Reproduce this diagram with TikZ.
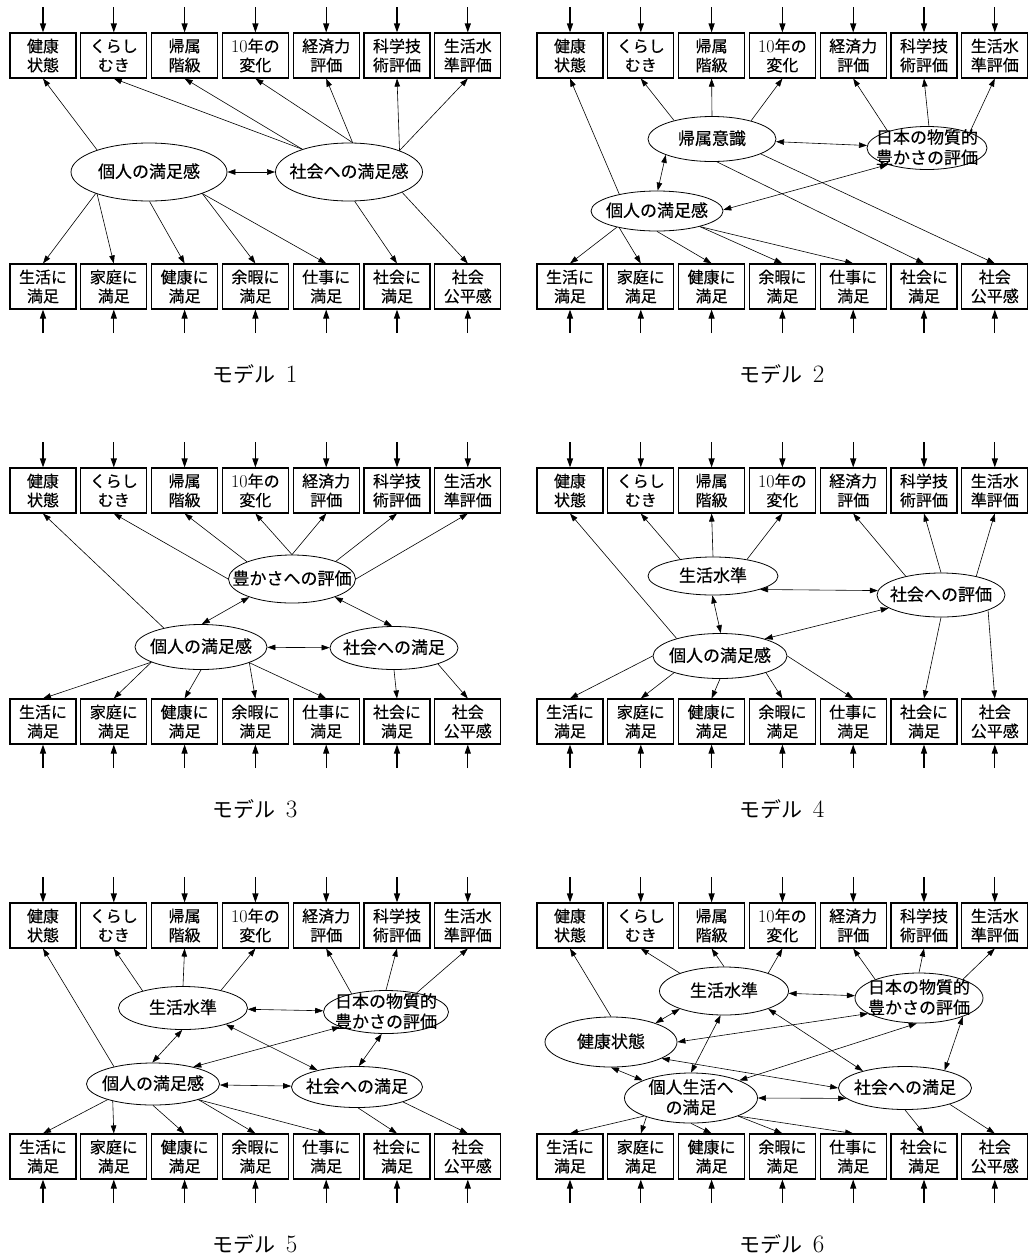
\documentclass[tikz,border=0pt]{standalone}
\usepackage{fontspec}
\newfontfamily\cjk{Noto Sans CJK JP}[FakeBold=0.4]
\newfontfamily\cjkcap{Noto Sans CJK JP}
\usetikzlibrary{shapes.geometric,arrows.meta}

% zero-size, vertically centred text so that an ellipse keeps its set size
\newcommand\zc[1]{\makebox[0pt]{\raisebox{\dimexpr(\depth-\height)/2-1.5pt\relax}[0pt][0pt]{\begin{tabular}{@{}c@{}}#1\end{tabular}}}}
% serif figures scaled to the height of the kana and kanji
\newcommand\fig[2]{{\rmfamily\fontsize{#1}{#1}\selectfont #2}}

\tikzset{
  obs/.style={draw, line width=1.1pt, minimum width=66pt, minimum height=45pt,
    inner sep=0pt, align=center, font=\cjk\fontsize{16}{19}\selectfont},
  lat/.style={draw, ellipse, line width=0.8pt, inner sep=0pt,
    font=\cjk\fontsize{17}{20}\selectfont},
  feed/.style={-{Triangle[length=9pt,width=6pt]}, line width=1.1pt},
  path1/.style={->, line width=0.6pt},
  cov/.style={<->, line width=0.6pt},
  mcap/.style={font=\cjkcap\fontsize{21}{24}\selectfont}
}

% observed indicators, their error inputs and the caption of one model
\newcommand\modelframe[1]{%
  \foreach \i/\t in {1/{健康\\状態},2/{くらし\\むき},3/{帰属\\階級},4/{\fig{18}{10}年の\\変化},
                     5/{経済力\\評価},6/{科学技\\術評価},7/{生活水\\準評価}}{
    \node[obs] (t\i) at ({43+70.8*(\i-1)},55.5) {\t};
    \coordinate (u\i) at ({43+70.8*(\i-1)},7);
    \draw[feed] (u\i) -- (t\i);
  }
  \foreach \i/\t in {1/{生活に\\満足},2/{家庭に\\満足},3/{健康に\\満足},4/{余暇に\\満足},
                     5/{仕事に\\満足},6/{社会に\\満足},7/{社会\\公平感}}{
    \node[obs] (b\i) at ({43+70.8*(\i-1)},286.5) {\t};
    \coordinate (d\i) at ({43+70.8*(\i-1)},333);
    \draw[feed] (d\i) -- (b\i);
  }
  \node[mcap] (cap) at (255,374) {モデル\hspace{10pt}\fig{25}{#1}};
}

\begin{document}
\begin{tikzpicture}[x=1pt, y=-1pt, >={Triangle[length=8pt,width=5.5pt]}]
\useasboundingbox (0,0) rectangle (1028,1259);

% ---------- model 1 ----------
\begin{scope}[name prefix=m1-]
  \modelframe{1}
  \node[lat, minimum width=156pt, minimum height=58pt] (p) at (149,172) {\zc{個人の満足感}};
  \node[lat, minimum width=147pt, minimum height=58pt] (s) at (349,172) {\zc{社会への満足感}};
  \draw[path1] (p.157) -- (t1.south);
  \draw[path1] (s.154) -- (t2.south);
  \draw[path1] (s.154) -- (t3.south);
  \draw[path1] (s.83) -- (t4.south);
  \draw[path1] (s.83) -- (t5.south);
  \draw[path1] (s.23) -- (t6.south);
  \draw[path1] (s.23) -- (t7.south);
  \draw[cov] (p) -- (s);
  \draw[path1] (p.202) -- (b1.north);
  \draw[path1] (p.203) -- (b2.north);
  \draw[path1] (p.271) -- (b3.north);
  \draw[path1] (p.338) -- (b4.north);
  \draw[path1] (p.338) -- (b5.north);
  \draw[path1] (s.281) -- (b6.north);
  \draw[path1] (s.339) -- (b7.north);
\end{scope}

% ---------- model 2 ----------
\begin{scope}[shift={(527,0)}, name prefix=m2-]
  \modelframe{2}
  \node[lat, minimum width=128pt, minimum height=45pt] (k) at (185,139) {\zc{帰属意識}};
  \node[lat, minimum width=120pt, minimum height=43pt] (j) at (400,148) {\zc{日本の物質的\\豊かさの評価}};
  \node[lat, minimum width=132pt, minimum height=40pt] (p) at (130,211) {\zc{個人の満足感}};
  \draw[path1] (p.156) -- (t1.south);
  \draw[path1] (k.154) -- (t2.south);
  \draw[path1] (k.90) -- (t3.south);
  \draw[path1] (k.25) -- (t4.south);
  \draw[path1] (j.157) -- (t5.south);
  \draw[path1] (j.85) -- (t6.south);
  \draw[path1] (j.20) -- (t7.south);
  \draw[cov] (k) -- (j);
  \draw[cov] (k.199) -- (p.88);
  \draw[cov] (j.203) -- (p.1);
  \draw[path1] (p.202) -- (b1.north);
  \draw[path1] (p.204) -- (b2.north);
  \draw[path1] (p.270) -- (b3.north);
  \draw[path1] (p.340) -- (b4.north);
  \draw[path1] (p.340) -- (b5.north);
  \draw[path1] (k.282) -- (b6.north);
  \draw[path1] (k.343) -- (b7.north);
\end{scope}

% ---------- model 3 ----------
\begin{scope}[shift={(0,435)}, name prefix=m3-]
  \modelframe{3}
  \node[lat, minimum width=127pt, minimum height=48pt] (r) at (292,144) {\zc{豊かさへの評価}};
  \node[lat, minimum width=132pt, minimum height=45pt] (p) at (201,212) {\zc{個人の満足感}};
  \node[lat, minimum width=128pt, minimum height=43pt] (s) at (394,213) {\zc{社会への満足}};
  \draw[path1] (p.153) -- (t1.south);
  \draw[path1] (r.180) -- (t2.south);
  \draw[path1] (r.159) -- (t3.south);
  \draw[path1] (r.90) -- (t4.south);
  \draw[path1] (r.90) -- (t5.south);
  \draw[path1] (r.22) -- (t6.south);
  \draw[path1] (r.0) -- (t7.south);
  \draw[cov] (r.203) -- (p.88);
  \draw[cov] (r.337) -- (s.95);
  \draw[cov] (p) -- (s);
  \draw[path1] (p.197) -- (b1.north);
  \draw[path1] (p.197) -- (b2.north);
  \draw[path1] (p.270) -- (b3.north);
  \draw[path1] (p.342) -- (b4.north);
  \draw[path1] (p.342) -- (b5.north);
  \draw[path1] (s.270) -- (b6.north);
  \draw[path1] (s.340) -- (b7.north);
\end{scope}

% ---------- model 4 ----------
\begin{scope}[shift={(527,435)}, name prefix=m4-]
  \modelframe{4}
  \node[lat, minimum width=130pt, minimum height=38pt] (l) at (186,141) {\zc{生活水準}};
  \node[lat, minimum width=128pt, minimum height=44pt] (e) at (414,160) {\zc{社会への評価}};
  \node[lat, minimum width=134pt, minimum height=45pt] (p) at (193,221) {\zc{個人の満足感}};
  \draw[path1] (p.158) -- (t1.south);
  \draw[path1] (l.153) -- (t2.south);
  \draw[path1] (l.90) -- (t3.south);
  \draw[path1] (l.26) -- (t4.south);
  \draw[path1] (e.152) -- (t5.south);
  \draw[path1] (e.90) -- (t6.south);
  \draw[path1] (e.28) -- (t7.south);
  \draw[cov] (l.344) -- (e.176);
  \draw[cov] (l.268) -- (p.88);
  \draw[cov] (e.194) -- (p.21);
  \draw[path1] (p.180) -- (b1.north);
  \draw[path1] (p.200) -- (b2.north);
  \draw[path1] (p.270) -- (b3.north);
  \draw[path1] (p.340) -- (b4.north);
  \draw[path1] (p.0) -- (b5.north);
  \draw[path1] (e.270) -- (b6.north);
  \draw[path1] (e.342) -- (b7.north);
\end{scope}

% ---------- model 5 ----------
\begin{scope}[shift={(0,870)}, name prefix=m5-]
  \modelframe{5}
  \node[lat, minimum width=129pt, minimum height=43pt] (l) at (183,138) {\zc{生活水準}};
  \node[lat, minimum width=125pt, minimum height=43pt] (j) at (386,142) {\zc{日本の物質的\\豊かさの評価}};
  \node[lat, minimum width=133pt, minimum height=42pt] (p) at (153,214) {\zc{個人の満足感}};
  \node[lat, minimum width=131pt, minimum height=41pt] (s) at (357,217) {\zc{社会への満足}};
  \draw[path1] (p.156) -- (t1.south);
  \draw[path1] (l.157) -- (t2.south);
  \draw[path1] (l.90) -- (t3.south);
  \draw[path1] (l.25) -- (t4.south);
  \draw[path1] (j.152) -- (t5.south);
  \draw[path1] (j.90) -- (t6.south);
  \draw[path1] (j.32) -- (t7.south);
  \draw[cov] (l) -- (j);
  \draw[cov] (l.268) -- (p.92);
  \draw[cov] (l.339) -- (s.157);
  \draw[cov] (j.198) -- (p.23);
  \draw[cov] (j.259) -- (s.85);
  \draw[cov] (p) -- (s);
  \draw[path1] (p.199) -- (b1.north);
  \draw[path1] (p.203) -- (b2.north);
  \draw[path1] (p.270) -- (b3.north);
  \draw[path1] (p.341) -- (b4.north);
  \draw[path1] (p.341) -- (b5.north);
  \draw[path1] (s.273) -- (b6.north);
  \draw[path1] (s.342) -- (b7.north);
\end{scope}

% ---------- model 6 ----------
\begin{scope}[shift={(527,870)}, name prefix=m6-]
  \modelframe{6}
  \node[lat, minimum width=129pt, minimum height=48pt] (l) at (197,121) {\zc{生活水準}};
  \node[lat, minimum width=128pt, minimum height=50pt] (j) at (392,128) {\zc{日本の物質的\\豊かさの評価}};
  \node[lat, minimum width=132pt, minimum height=50pt] (h) at (84,172) {\zc{健康状態}};
  \node[lat, minimum width=133pt, minimum height=50pt] (p) at (164,228) {\zc{個人生活へ\\の満足}};
  \node[lat, minimum width=133pt, minimum height=43pt] (s) at (378,218) {\zc{社会への満足}};
  \draw[path1] (h.90) -- (t1.south);
  \draw[path1] (l.158) -- (t2.south);
  \draw[path1] (l.90) -- (t3.south);
  \draw[path1] (l.22) -- (t4.south);
  \draw[path1] (j.157) -- (t5.south);
  \draw[path1] (j.90) -- (t6.south);
  \draw[path1] (j.23) -- (t7.south);
  \draw[cov] (l) -- (j);
  \draw[cov] (l.202) -- (h.23);
  \draw[cov] (l.262) -- (p.90);
  \draw[cov] (l.338) -- (s.158);
  \draw[cov] (j.197) -- (h.0);
  \draw[cov] (j.265) -- (p.20);
  \draw[cov] (j.337) -- (s.24);
  \draw[cov] (h.270) -- (p.160);
  \draw[cov] (h.342) -- (s.180);
  \draw[cov] (p.0) -- (s.190);
  \draw[path1] (p.201) -- (b1.north);
  \draw[path1] (p.203) -- (b2.north);
  \draw[path1] (p.270) -- (b3.north);
  \draw[path1] (p.339) -- (b4.north);
  \draw[path1] (p.339) -- (b5.north);
  \draw[path1] (s.270) -- (b6.north);
  \draw[path1] (s.340) -- (b7.north);
\end{scope}
\end{tikzpicture}
\end{document}
